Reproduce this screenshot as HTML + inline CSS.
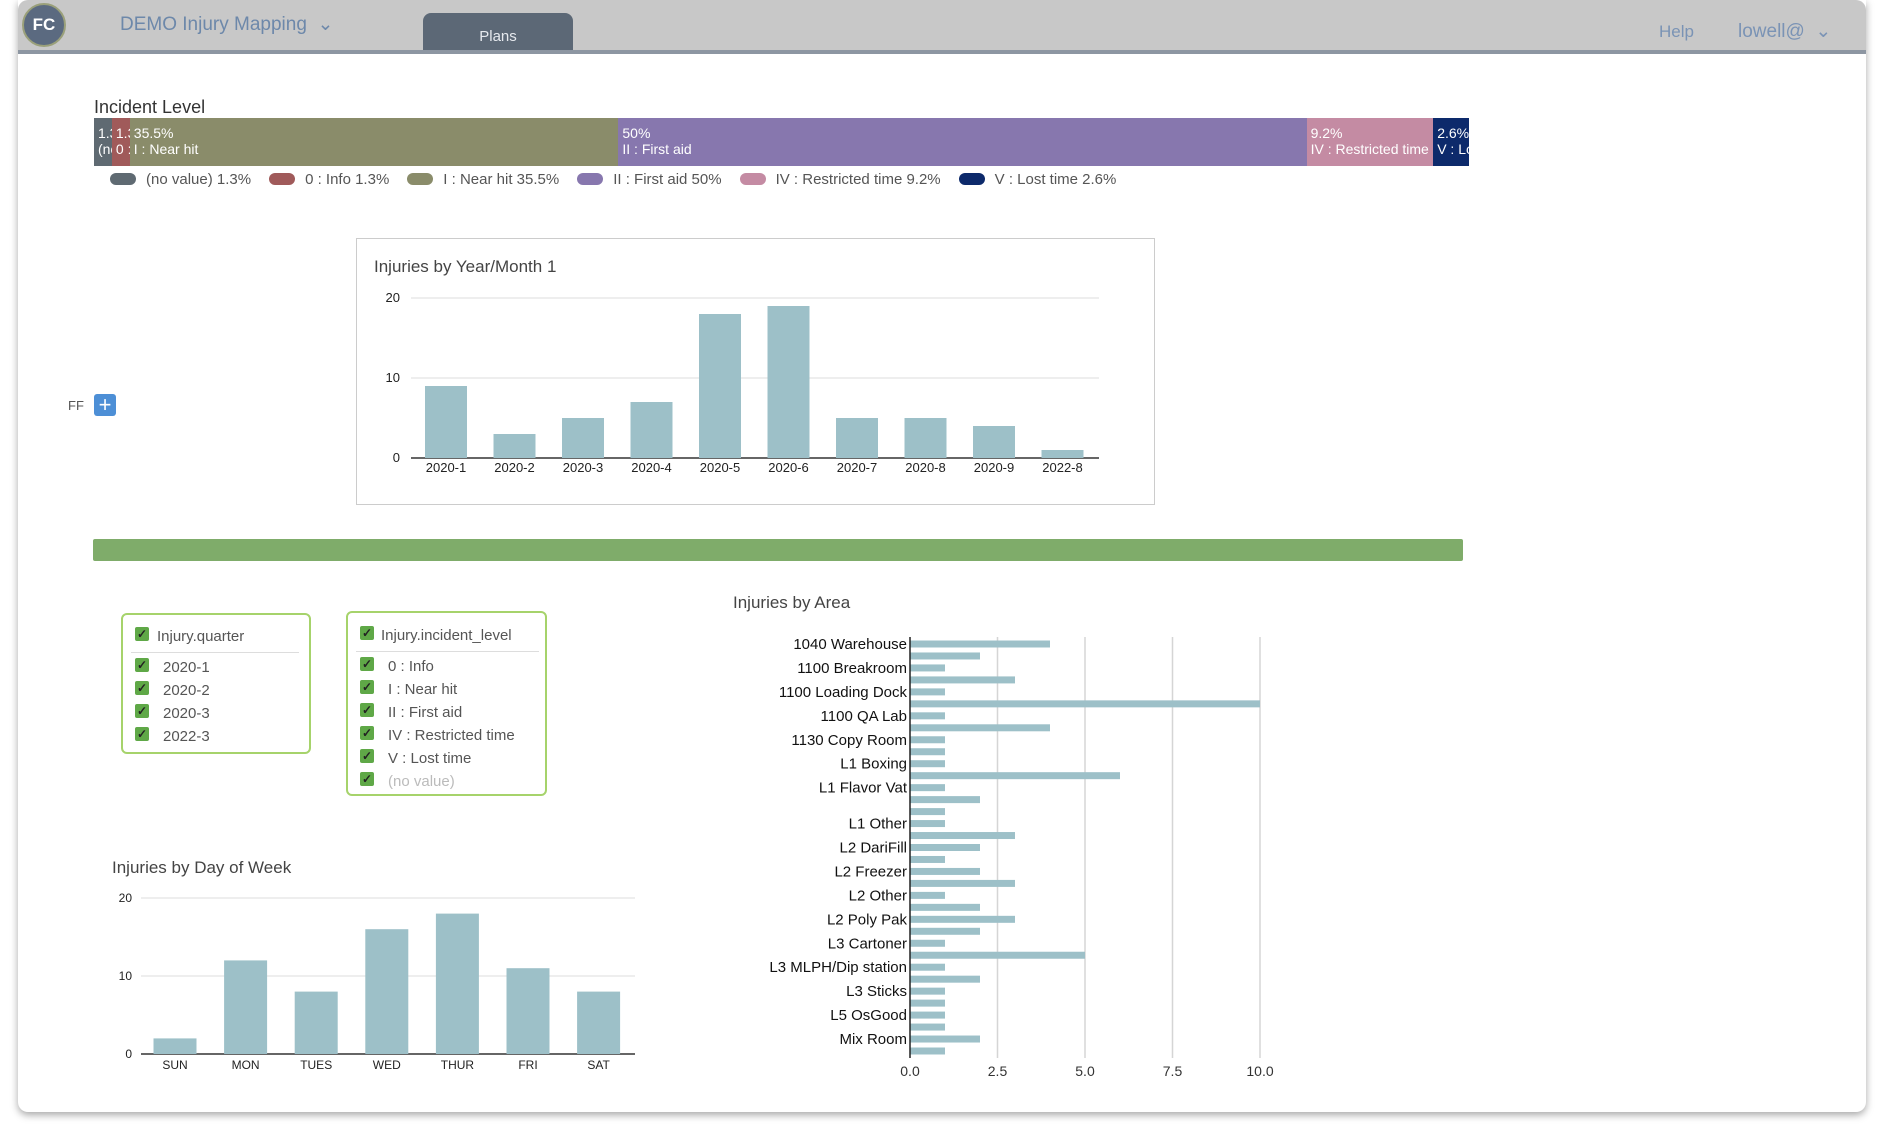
<!DOCTYPE html>
<html><head><meta charset="utf-8">
<style>
html,body{margin:0;padding:0;background:#fff;}
body{width:1885px;height:1145px;position:relative;overflow:hidden;font-family:"Liberation Sans",sans-serif;}
.abs{position:absolute;}
#frame{left:18px;top:0;width:1848px;height:1112px;background:#fff;box-shadow:0 3px 8px rgba(0,0,0,0.35);border-radius:0 0 10px 10px;}
#hdr{left:18px;top:0;width:1848px;height:50px;background:#c8c8c8;border-bottom:4px solid #8d96a2;border-radius:10px 10px 0 0;}
.t{color:#444;font-size:17px;}
.cb{position:absolute;width:14px;height:14px;background:#5fa847;border-radius:2px;color:#222;font-size:12px;line-height:14px;text-align:center;font-weight:bold;}
.fb{position:absolute;border:2px solid #a6d36b;border-radius:6px;}
.fi{position:absolute;font-size:15px;color:#555;}
</style></head><body>
<div id="frame" class="abs"></div>
<div id="hdr" class="abs"></div>
<div class="abs" style="left:22px;top:3px;width:40px;height:40px;border-radius:50%;background:#5b6a80;border:2px solid #9aa07a;color:#fff;font-size:17px;font-weight:bold;line-height:40px;text-align:center;">FC</div>
<div class="abs" style="left:120px;top:13px;font-size:19px;color:#6d88aa;">DEMO Injury Mapping &nbsp;⌄</div>
<div class="abs" style="left:423px;top:13px;width:150px;height:37px;background:#5c6876;border-radius:8px 8px 0 0;color:#e6e9ee;font-size:15px;text-align:center;line-height:48px;">Plans</div>
<div class="abs" style="left:1659px;top:22px;font-size:17px;color:#7a93b5;">Help</div>
<div class="abs" style="left:1738px;top:20px;font-size:19px;color:#7a93b5;">lowell@ &nbsp;⌄</div>

<div class="abs t" style="left:94px;top:97px;font-size:18px;color:#333;">Incident Level</div>
<div class="abs" id="stack" style="left:94px;top:118px;width:1375px;height:48px;"></div>
<div class="abs" id="legend" style="left:110px;top:171px;height:18px;font-size:15px;color:#555;white-space:nowrap;"></div>

<div class="abs" style="left:356px;top:238px;width:797px;height:265px;border:1px solid #ccc;"></div>
<div class="abs t" style="left:374px;top:257px;font-size:17px;">Injuries by Year/Month 1</div>

<div class="abs" style="left:68px;top:398px;font-size:13px;color:#555;">FF</div>
<div class="abs" style="left:94px;top:394px;width:22px;height:22px;background:#4d8fd6;border-radius:3px;color:#fff;font-size:22px;line-height:21px;text-align:center;">+</div>

<div class="abs" style="left:93px;top:539px;width:1370px;height:22px;background:#7fac6a;border-radius:2px;"></div>

<div class="fb" style="left:121px;top:613px;width:186px;height:137px;">
 <div class="cb" style="left:12px;top:12px;">✓</div><div class="fi" style="left:34px;top:13px;">Injury.quarter</div>
 <div style="position:absolute;left:8px;top:37px;width:168px;border-top:1px solid #ddd;"></div>
 <div class="cb" style="left:12px;top:43px;">✓</div><div class="fi" style="left:40px;top:44px;">2020-1</div>
 <div class="cb" style="left:12px;top:66px;">✓</div><div class="fi" style="left:40px;top:67px;">2020-2</div>
 <div class="cb" style="left:12px;top:89px;">✓</div><div class="fi" style="left:40px;top:90px;">2020-3</div>
 <div class="cb" style="left:12px;top:112px;">✓</div><div class="fi" style="left:40px;top:113px;">2022-3</div>
</div>
<div class="fb" style="left:346px;top:611px;width:197px;height:181px;">
 <div class="cb" style="left:12px;top:13px;">✓</div><div class="fi" style="left:33px;top:14px;">Injury.incident_level</div>
 <div style="position:absolute;left:8px;top:38px;width:183px;border-top:1px solid #ddd;"></div>
 <div class="cb" style="left:12px;top:44px;">✓</div><div class="fi" style="left:40px;top:45px;">0 : Info</div>
 <div class="cb" style="left:12px;top:67px;">✓</div><div class="fi" style="left:40px;top:68px;">I : Near hit</div>
 <div class="cb" style="left:12px;top:90px;">✓</div><div class="fi" style="left:40px;top:91px;">II : First aid</div>
 <div class="cb" style="left:12px;top:113px;">✓</div><div class="fi" style="left:40px;top:114px;">IV : Restricted time</div>
 <div class="cb" style="left:12px;top:136px;">✓</div><div class="fi" style="left:40px;top:137px;">V : Lost time</div>
 <div class="cb" style="left:12px;top:159px;">✓</div><div class="fi" style="left:40px;top:160px;color:#bbb;">(no value)</div>
</div>

<div class="abs t" style="left:112px;top:858px;">Injuries by Day of Week</div>
<div class="abs t" style="left:733px;top:593px;">Injuries by Area</div>

<svg id="svg" class="abs" style="left:0;top:0;" width="1885" height="1145"></svg>

<script>
const levelNames=["(no value)","0 : Info","I : Near hit","II : First aid","IV : Restricted time","V : Lost time"];
const levelPct=[1.3,1.3,35.5,50,9.2,2.6];
const levelColors=["#5f6a72","#a05a5a","#8a8c6a","#8777ae","#c48ba3","#0d2a6b"];

const ymCats=["2020-1","2020-2","2020-3","2020-4","2020-5","2020-6","2020-7","2020-8","2020-9","2022-8"];
const ymVals=[9,3,5,7,18,19,5,5,4,1];
const ymTicks=[0,10,20];

const dowCats=["SUN","MON","TUES","WED","THUR","FRI","SAT"];
const dowVals=[2,12,8,16,18,11,8];
const dowTicks=[0,10,20];

const areaLabels=["1040 Warehouse","","1100 Breakroom","","1100 Loading Dock","","1100 QA Lab","","1130 Copy Room","","L1 Boxing","","L1 Flavor Vat","","","L1 Other","","L2 DariFill","","L2 Freezer","","L2 Other","","L2 Poly Pak","","L3 Cartoner","","L3 MLPH/Dip station","","L3 Sticks","","L5 OsGood","","Mix Room",""];
const areaVals=[4,2,1,3,1,10,1,4,1,1,1,6,1,2,1,1,3,2,1,2,3,1,2,3,2,1,5,1,2,1,1,1,1,2,1];
const areaTicks=[0,2.5,5,7.5,10];

const stack=document.getElementById('stack');
const tot=levelPct.reduce((a,b)=>a+b,0);
let acc=0;
levelPct.forEach((p,i)=>{
  const d=document.createElement('div');
  
  
  d.style.cssText='position:absolute;top:0;height:48px;overflow:hidden;color:#fff;font-size:14px;line-height:16px;padding:7px 0 0 4px;box-sizing:border-box;white-space:nowrap;';
  d.style.left=(acc/tot*1375)+'px';d.style.width=(p/tot*1375)+'px';d.style.background=levelColors[i];
  d.innerHTML=p+'%<br>'+levelNames[i];
  stack.appendChild(d);acc+=p;
});
const lg=document.getElementById('legend');
levelPct.forEach((p,i)=>{
  const s=document.createElement('span');
  
  
  s.style.cssText='display:inline-block;margin-right:18px;';
  s.innerHTML='<span style="display:inline-block;width:26px;height:12px;border-radius:6px;vertical-align:-1px;margin-right:10px;background:'+levelColors[i]+'"></span>'+levelNames[i]+' '+p+'%';
  lg.appendChild(s);
});

const svg=document.getElementById('svg');
const NS='http://www.w3.org/2000/svg';
function mk(tag,attrs,txt){const e=document.createElementNS(NS,tag);for(const k in attrs)e.setAttribute(k,attrs[k]);if(txt!==undefined)e.textContent=txt;svg.appendChild(e);return e;}

function vbar(cats,vals,ticks,x0,x1,yTop,yBot,firstC,step,bw,labY,fs,tickX){
  const ymax=ticks[ticks.length-1];
  const y=v=>yBot-(v/ymax)*(yBot-yTop);
  ticks.forEach(t=>{
    const g=mk('line',{x1:x0,x2:x1,y1:y(t),y2:y(t),stroke:t===0?'#333':'#ddd','stroke-width':t===0?1.5:1});
    
    const l=mk('text',{x:tickX,y:y(t)+4,'font-size':fs,'text-anchor':'end',fill:'#222'},t);
    
  });
  cats.forEach((c,i)=>{
    const cx=firstC+i*step;
    const r=mk('rect',{x:cx-bw/2,y:y(vals[i]),width:bw,height:yBot-y(vals[i]),fill:'#9dc0c8'});
    
    const t=mk('text',{x:cx,y:labY,'font-size':fs,'text-anchor':'middle',fill:'#222'},c);
    
  });
}
vbar(ymCats,ymVals,ymTicks,411,1099,298,458,446,68.5,42,472,13,400);
vbar(dowCats,dowVals,dowTicks,141,635,898,1054,175,70.6,43,1069,12,132);

const ax0=910,ax1=1260,ay0=644,ay1=1051;
const xs=v=>ax0+v/10*(ax1-ax0);
const st=(ay1-ay0)/(areaVals.length-1);
areaTicks.forEach(t=>{
  if(t>0){const g=mk('line',{x1:xs(t),x2:xs(t),y1:637,y2:1058,stroke:'#d5d5d5','stroke-width':1.5});
  }
  const l=mk('text',{x:xs(t),y:1076,'font-size':14,'text-anchor':'middle',fill:'#333'},t.toFixed(1));
  
});
areaVals.forEach((v,i)=>{
  const cy=ay0+i*st;
  const r=mk('rect',{x:ax0,y:cy-3.5,width:xs(v)-ax0,height:7,fill:'#9dc0c8'});
  
  if(areaLabels[i]){const t=mk('text',{x:ax0-3,y:cy+5,'font-size':15,'text-anchor':'end',fill:'#111'},areaLabels[i]);
  }
});
const ax=mk('line',{x1:ax0,x2:ax0,y1:637,y2:1058,stroke:'#222','stroke-width':1.5});

</script>
</body></html>
